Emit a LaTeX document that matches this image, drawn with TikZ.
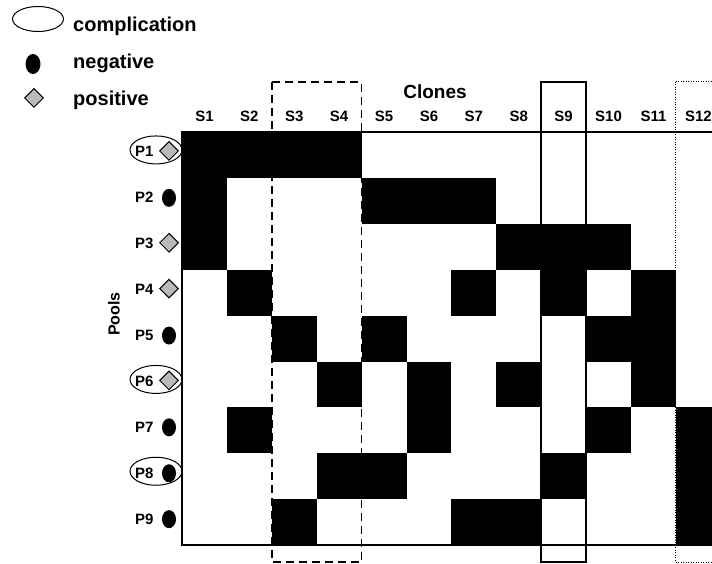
\documentclass[tikz,border=0pt]{standalone}
\usepackage{fontspec}
\setmainfont{Liberation Sans}
\usetikzlibrary{shapes.geometric}

\begin{document}
\begin{tikzpicture}[x=1pt,y=-1pt,
  lbl/.style={inner sep=0pt,font=\bfseries\fontsize{15}{17}\selectfont},
  lgd/.style={inner sep=0pt,anchor=base west,font=\bfseries\fontsize{20}{22}\selectfont},
  negmark/.style={ellipse,fill=black,minimum width=14pt,minimum height=18pt,inner sep=0pt},
  posmark/.style={diamond,draw=black,line width=1pt,fill=gray!55,minimum size=19pt,inner sep=0pt},
  compl/.style={ellipse,draw=black,line width=1pt,minimum width=52pt,minimum height=28pt,inner sep=0pt}]

  \clip (0,0) rectangle (712,564);
  \def\cw{44.9}
  \def\rh{45.9}

  % legend
  \node[compl,minimum height=25pt,minimum width=51pt] (lgcompl) at (38,19) {};
  \node[lgd] (lgcompltxt) at (73,32) {complication};
  \node[negmark,minimum width=15pt,minimum height=20pt] (lgneg) at (33,64) {};
  \node[lgd] (lgnegtxt) at (73,69) {negative};
  \node[posmark] (lgpos) at (34,98) {};
  \node[lgd] (lgpostxt) at (73,106) {positive};

  % black cells: pool row / clone columns
  \foreach \r/\cols in {1/{1,2,3,4},2/{1,5,6,7},3/{1,8,9,10},4/{2,7,9,11},5/{3,5,10,11},
                        6/{4,6,8,11},7/{2,6,10,12},8/{4,5,9,12},9/{3,7,8,12}}
    \foreach \c in \cols
      \fill[black] ({182+(\c-1)*\cw},{132+(\r-1)*\rh}) rectangle ++(\cw,\rh);

  % frame of the matrix
  \draw[line width=1.6pt] (715,132) -- (182,132) -- (182,545) -- (715,545);

  % headers
  \node[inner sep=0pt,font=\bfseries\fontsize{19}{21}\selectfont] (clones) at (435,92) {Clones};
  \foreach \c in {1,...,12}
    \node[lbl,anchor=base] (hS\c) at ({182+(\c-0.5)*\cw},122) {S\c};

  % pools
  \node[inner sep=0pt,rotate=90,font=\bfseries\fontsize{16}{18}\selectfont] (pools) at (114,314) {Pools};
  \foreach \r in {1,...,9}
    \node[lbl,anchor=base west] (p\r) at (135,{132+(\r-0.5)*\rh+2}) {P\r};
  \foreach \r in {1,3,4,6}
    \node[posmark] (m\r) at (169,{132+(\r-0.5)*\rh-4}) {};
  \foreach \r in {2,5,7,8,9}
    \node[negmark] (m\r) at (169,{132+(\r-0.5)*\rh-3}) {};
  \foreach \r in {1,6,8}
    \node[compl] (c\r) at (156,{132+(\r-0.5)*\rh-5}) {};

  % highlighted clone groups
  \draw[line width=1.6pt,dash pattern=on 8pt off 5pt] (271.8,82) rectangle (361.6,562);
  \draw[line width=1.5pt] (541.2,82) rectangle (586.1,562);
  \draw[line width=1pt,dash pattern=on 1pt off 1.5pt] (675.9,82) rectangle (730,562);

\end{tikzpicture}
\end{document}
